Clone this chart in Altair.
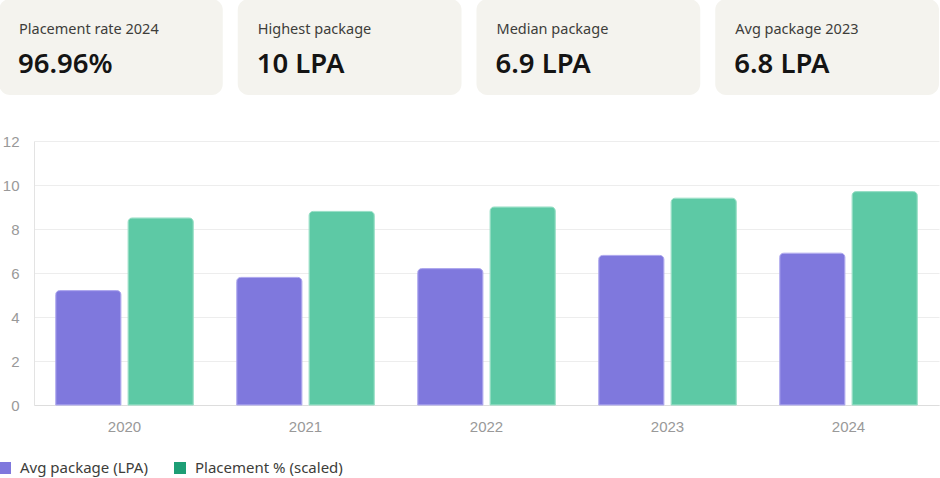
import altair as alt
import pandas as pd

# ---- data ----
years = ["2020", "2021", "2022", "2023", "2024"]
avg_pkg = [5.2, 5.8, 6.2, 6.8, 6.9]
placement_scaled = [8.5, 8.8, 9.0, 9.4, 9.7]
series_names = ["Avg package (LPA)", "Placement % (scaled)"]
bar_colors = ["#7F78DD", "#5DC9A5"]
bar_edges = ["#A9A3EC", "#93DDC3"]
legend_colors = ["#7F78DD", "#1D9E75"]
y_ticks = [0, 2, 4, 6, 8, 10, 12]

card_labels = ["Placement rate 2024", "Highest package", "Median package", "Avg package 2023"]
card_values = ["96.96%", "10 LPA", "6.9 LPA", "6.8 LPA"]

rows = []
for i, yr in enumerate(years):
    rows.append({"year": yr, "series": series_names[0], "value": avg_pkg[i]})
    rows.append({"year": yr, "series": series_names[1], "value": placement_scaled[i]})
df = pd.DataFrame(rows)

cards_df = pd.DataFrame({"card": list(range(len(card_labels))),
                         "label": card_labels, "val": card_values})
legend_df = pd.DataFrame({"series": series_names, "color": legend_colors})

UI_FONT = "Noto Sans"
AX_FONT = "Liberation Sans"

# ---- KPI cards ----
card_scale = alt.Scale(range=[-35, 905], paddingInner=0.0628, paddingOuter=0)
card_base = alt.Chart(cards_df)
card_rect = card_base.mark_rect(cornerRadius=11, fill="#F4F3EE").encode(
    x=alt.X("card:O", scale=card_scale, axis=None)
)
card_label = card_base.mark_text(align="left", baseline="middle", dx=20, fontSize=14.5,
                                 color="#3D3D3A", font=UI_FONT).encode(
    x=alt.X("card:O", bandPosition=0, scale=card_scale, axis=None),
    y=alt.value(31),
    text="label:N",
)
card_value = card_base.mark_text(align="left", baseline="middle", dx=19, fontSize=27.5,
                                 fontWeight=600, color="#141414", font=UI_FONT).encode(
    x=alt.X("card:O", bandPosition=0, scale=card_scale, axis=None),
    y=alt.value(66),
    text="val:N",
)
cards = alt.layer(card_rect, card_label, card_value).properties(width=905, height=96)

# ---- bar chart ----
x_enc = alt.X("year:O", sort=years,
              scale=alt.Scale(paddingInner=0.2, paddingOuter=0.1),
              axis=alt.Axis(title=None, labelAngle=0, ticks=False, labelPadding=14,
                            labelFontSize=15, labelColor="#999999", labelFont=AX_FONT,
                            domainColor="#DDDDDD", grid=False))
xo_enc = alt.XOffset("series:N", sort=series_names,
                     scale=alt.Scale(paddingInner=0.1, paddingOuter=0.05))
y_enc = alt.Y("value:Q", scale=alt.Scale(domain=[0, 12], nice=False),
              axis=alt.Axis(title=None, values=y_ticks, ticks=False, labelPadding=15,
                            labelFontSize=15, labelColor="#999999", labelFont=AX_FONT,
                            domainColor="#E3E3E3", gridColor="#EDEDED", grid=True))

bars = alt.Chart(df).mark_bar(cornerRadiusTopLeft=4, cornerRadiusTopRight=4,
                              strokeWidth=1).encode(
    x=x_enc, xOffset=xo_enc, y=y_enc,
    fill=alt.Fill("series:N", sort=series_names,
                  scale=alt.Scale(domain=series_names, range=bar_colors), legend=None),
    stroke=alt.Stroke("series:N", sort=series_names,
                      scale=alt.Scale(domain=series_names, range=bar_edges), legend=None),
)

# custom legend below the axis
leg_x = alt.X("series:N", sort=series_names,
              scale=alt.Scale(type="point", domain=series_names, range=[-29, 146], padding=0),
              axis=None)
leg_sw = alt.Chart(legend_df).mark_square(size=144, opacity=1, cornerRadius=2).encode(
    x=leg_x, y=alt.value(327),
    color=alt.Color("color:N", scale=None),
)
leg_tx = alt.Chart(legend_df).mark_text(align="left", baseline="middle", dx=15, fontSize=15,
                                        color="#3D3D3A", font=UI_FONT).encode(
    x=leg_x, y=alt.value(327), text="series:N",
)
bar_chart = alt.layer(bars, leg_sw, leg_tx).resolve_scale(x="independent").properties(
    width=905, height=264)

chart = alt.vconcat(cards, bar_chart, spacing=37).properties(
    padding={"top": -2, "left": -2, "right": 0, "bottom": 0}, background="white"
).configure_view(stroke="transparent")

chart.save("out.html", embed_options={"renderer": "svg", "actions": False})
